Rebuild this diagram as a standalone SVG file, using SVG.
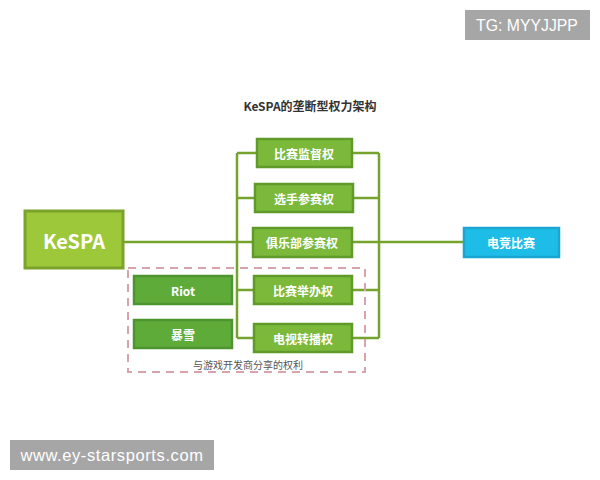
<svg xmlns="http://www.w3.org/2000/svg" width="600" height="480" viewBox="0 0 600 480">
<style>
.t{font-family:"Noto Sans CJK SC","Liberation Sans",sans-serif;font-weight:bold;fill:#ffffff;text-anchor:middle;dominant-baseline:central}
.g{fill:#7cb83a;stroke:#5f9a2a;stroke-width:2.5}
.d{fill:#5fab3a;stroke:#4e9530;stroke-width:2.5}
.ln{stroke:#76a22e;stroke-width:2.5;fill:none}
.wm{fill:#a6a6a6}
.wt{font-family:"Liberation Sans",sans-serif;fill:#ffffff;dominant-baseline:central}
</style>
<rect width="600" height="480" fill="#ffffff"/>
<g id="watermark-tg"><rect class="wm" x="465" y="10" width="125" height="30"/><text class="wt" x="527" y="25" font-size="15.8" text-anchor="middle">TG: MYYJJPP</text></g>
<g id="watermark-url"><rect class="wm" x="10" y="440" width="204" height="30"/><text class="wt" x="112" y="455" font-size="16.5" letter-spacing="0.6" text-anchor="middle">www.ey-starsports.com</text></g>
<text x="310" y="105" font-family="'Noto Sans CJK SC','Liberation Sans',sans-serif" font-weight="bold" font-size="12" fill="#333333" text-anchor="middle" dominant-baseline="central">KeSPA的垄断型权力架构</text>
<g id="connectors">
<path class="ln" d="M123 242H253M352 242H463"/>
<path class="ln" d="M237 153V338M379 153V338"/>
<path class="ln" d="M237 153H257M237 198H255M237 290H254M237 338H254"/>
<path class="ln" d="M352 153H379M353 198H379M352 290H379M352 338H379"/>
</g>
<g id="shared-zone"><rect x="128" y="268" width="237" height="104" fill="none" stroke="#d9a3ab" stroke-width="2" stroke-dasharray="8,6"/><text x="248" y="364" font-family="'Noto Sans CJK SC','Liberation Sans',sans-serif" font-size="10" fill="#555555" text-anchor="middle" dominant-baseline="central">与游戏开发商分享的权利</text></g>
<g id="kespa"><rect x="25" y="211" width="98" height="57" fill="#9dc83a" stroke="#7ba32b" stroke-width="3"/><text class="t" x="74" y="240" font-size="20">KeSPA</text></g>
<g id="n1"><rect class="g" x="257" y="139" width="95" height="28"/><text class="t" x="304" y="153" font-size="12">比赛监督权</text></g>
<g id="n2"><rect class="g" x="255" y="184" width="98" height="28"/><text class="t" x="304" y="198" font-size="12">选手参赛权</text></g>
<g id="n3"><rect class="g" x="253" y="228" width="99" height="29"/><text class="t" x="302" y="242" font-size="12">俱乐部参赛权</text></g>
<g id="n4"><rect class="g" x="254" y="276" width="98" height="28"/><text class="t" x="303" y="290" font-size="12">比赛举办权</text></g>
<g id="n5"><rect class="g" x="254" y="324" width="98" height="28"/><text class="t" x="303" y="338" font-size="12">电视转播权</text></g>
<g id="riot"><rect class="d" x="134" y="276" width="98" height="28"/><text class="t" x="183" y="290" font-size="12">Riot</text></g>
<g id="blizzard"><rect class="d" x="134" y="320" width="98" height="28"/><text class="t" x="183" y="334" font-size="12">暴雪</text></g>
<g id="esports"><rect x="464" y="228" width="95" height="29" fill="#1ebde8" stroke="#1aa6d0" stroke-width="2.5"/><text class="t" x="511" y="242" font-size="12">电竞比赛</text></g>
</svg>
